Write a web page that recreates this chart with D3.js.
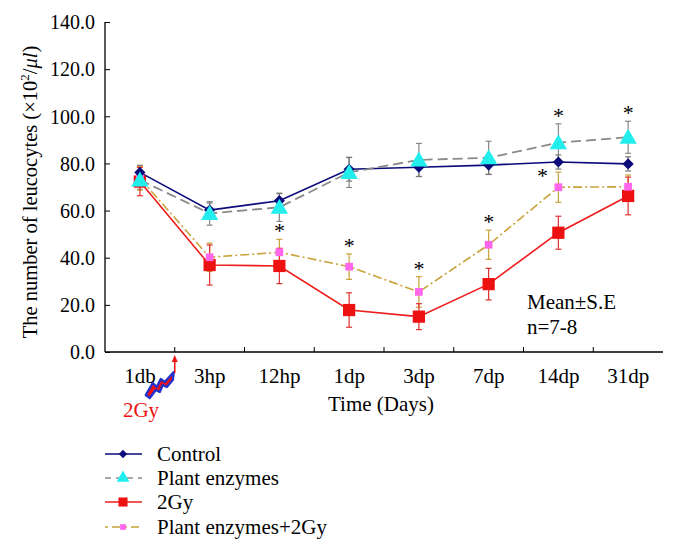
<!DOCTYPE html>
<html><head><meta charset="utf-8">
<script src="https://cdn.jsdelivr.net/npm/d3@7"></script>
<style>body{margin:0;background:#fff}svg{display:block}text{font-family:"Liberation Serif","Times New Roman",serif}</style>
</head><body><svg id="c" width="678" height="549"></svg>
<script>
const categories = ["1db","3hp","12hp","1dp","3dp","7dp","14dp","31dp"];
const yTicks = [0,20,40,60,80,100,120,140];
const controlVals = [76.2,60.2,64.2,77.5,78.4,79.3,80.6,79.8];
const controlErr  = [3,3,3,5,4,4,3,3];
const plantVals   = [73,58.8,61.4,76.2,81.5,82.4,88.8,91.1];
const plantErr    = [4,5,6,6.4,7,7,8,6.8];
const gyVals      = [72.3,36.9,36.5,17.8,15.0,28.8,50.6,66.2];
const gyErr       = [6,8.5,7.5,7.3,5.5,6.7,7,8];
const pgVals      = [73.7,40.2,42.3,36.2,25.5,45.5,69.9,70.1];
const pgErr       = [5,6,5.5,5.4,6.5,6.2,6.4,5];
const seriesNames = ["Control","Plant enzymes","2Gy","Plant enzymes+2Gy"];
// asterisks: [category index, series the star sits above]
const stars = [[2,"pg"],[3,"pg"],[4,"pg"],[5,"pg"],[6,"pgLeft"],[6,"plant"],[7,"plant"]];

const svg = d3.select("#c");
const L=105,R=663,T=22,B=352;
const x = d3.scaleBand().domain(categories).range([L,R]);
const y = d3.scaleLinear().domain([0,140]).range([B,T]);
const cx = c => x(c)+x.bandwidth()/2;

// axes
const ya = svg.append("g").attr("transform",`translate(${L},0)`)
  .call(d3.axisLeft(y).tickValues(yTicks).tickSize(-5).tickPadding(10).tickFormat(d3.format(".1f")));
ya.select(".domain").attr("d",`M0,${T}V${B}`);
const xa = svg.append("g").attr("transform",`translate(0,${B})`)
  .call(d3.axisBottom(x).tickSize(0).tickPadding(0).tickFormat(""));
xa.select(".domain").attr("d",`M${L},0H${R}`);
svg.selectAll(".domain").attr("stroke","#000").attr("stroke-width",1.3);
ya.selectAll(".tick line").attr("stroke","#000");
ya.selectAll("text").attr("font-size",20).attr("fill","#000").attr("font-family","Liberation Serif").attr("dy","0.34em");
// x band boundary ticks (inside)
svg.append("g").selectAll("line").data(categories.slice(1)).join("line")
  .attr("x1",d=>x(d)).attr("x2",d=>x(d)).attr("y1",B).attr("y2",B-5).attr("stroke","#000");
svg.append("g").selectAll("text").data(categories).join("text")
  .attr("x",d=>cx(d)).attr("y",B+31).attr("text-anchor","middle").attr("font-size",21).text(d=>d);

svg.append("text").attr("x",381).attr("y",411).attr("text-anchor","middle").attr("font-size",21).text("Time (Days)");
const yt = svg.append("text").attr("transform",`translate(37,${(T+B)/2+5}) rotate(-90)`).attr("text-anchor","middle").attr("font-size",20.5);
yt.append("tspan").text("The number of leucocytes (×10");
yt.append("tspan").attr("font-size",13).attr("dy",-8).text("2");
yt.append("tspan").attr("dy",8).text("/");
yt.append("tspan").attr("font-style","italic").text("μl");
yt.append("tspan").text(")");

const S = {
  control:{vals:controlVals,err:controlErr,line:"#0a0a7a",dash:null,eb:"#777"},
  plant:{vals:plantVals,err:plantErr,line:"#8a8a8a",dash:"10,5",eb:"#888"},
  gy:{vals:gyVals,err:gyErr,line:"#ee1c1c",dash:null,eb:"#e03030"},
  pg:{vals:pgVals,err:pgErr,line:"#c9a23a",dash:"9,3,2,3",eb:"#c9a23a"}
};
// error bars
["plant","control","pg","gy"].forEach(k=>{
  const s=S[k];
  const g=svg.append("g").attr("stroke",s.eb).attr("stroke-width",1.2);
  categories.forEach((c,i)=>{
    const X=cx(c),y1=y(s.vals[i]+s.err[i]),y2=y(s.vals[i]-s.err[i]);
    g.append("line").attr("x1",X).attr("x2",X).attr("y1",y1).attr("y2",y2);
    g.append("line").attr("x1",X-3).attr("x2",X+3).attr("y1",y1).attr("y2",y1);
    g.append("line").attr("x1",X-3).attr("x2",X+3).attr("y1",y2).attr("y2",y2);
  });
});
const line = vals => d3.line().x((d,i)=>cx(categories[i])).y(d=>y(d))(vals);
["gy","pg","control","plant"].forEach(k=>{
  const s=S[k];
  svg.append("path").attr("d",line(s.vals)).attr("fill","none").attr("stroke",s.line)
    .attr("stroke-width",k==="plant"?1.8:1.6).attr("stroke-dasharray",s.dash);
});
const sym = {
  gy:{t:d3.symbolSquare,size:150,fill:"#ee1111"},
  pg:{t:d3.symbolSquare,size:60,fill:"#ff66ee"},
  control:{t:d3.symbolDiamond2,size:80,fill:"#0a0a7a"},
  plant:{t:d3.symbolTriangle,size:130,fill:"#22eeee"}
};
["gy","pg","control","plant"].forEach(k=>{
  const s=S[k],m=sym[k];
  svg.append("g").selectAll("path").data(s.vals).join("path")
    .attr("transform",(d,i)=>`translate(${cx(categories[i])},${y(d)+(k==="plant"?1.5:0)})`)
    .attr("d",d3.symbol().type(m.t).size(m.size)).attr("fill",m.fill);
});
// stars
stars.forEach(([i,k])=>{
  let X=cx(categories[i]),Y;
  if(k==="pgLeft"){X-=16;Y=y(pgVals[i])-12;}
  else {const s=S[k];Y=y(s.vals[i]+s.err[i])-9;}
  svg.append("text").attr("x",X).attr("y",Y+8).attr("text-anchor","middle").attr("font-size",22).text("*");
});
svg.append("text").attr("x",527).attr("y",309).attr("font-size",21).text("Mean±S.E");
svg.append("text").attr("x",527).attr("y",334).attr("font-size",21).text("n=7-8");

// 2Gy irradiation marker (lightning bolt + arrow)
const bx = x(categories[1]);
svg.append("path").attr("d",
  `M${bx-29},${B+43} L${bx-22},${B+31} L${bx-18},${B+35} L${bx-14},${B+27} L${bx-10},${B+30} L${bx-1},${B+20}
   L${bx-2},${B+28} L${bx-8},${B+35} L${bx-12},${B+33} L${bx-15},${B+40} L${bx-19},${B+38} L${bx-25},${B+46} Z`)
  .attr("fill","#ee1111").attr("stroke","#2233cc").attr("stroke-width",2.4).attr("stroke-linejoin","round");
svg.append("line").attr("x1",bx).attr("x2",bx).attr("y1",B+21).attr("y2",B+8).attr("stroke","#ee1111").attr("stroke-width",1.5);
svg.append("path").attr("d",`M${bx-3},${B+10} L${bx},${B+3} L${bx+3},${B+10} Z`).attr("fill","#ee1111");
svg.append("text").attr("x",141).attr("y",417).attr("text-anchor","middle").attr("font-size",21).attr("fill","#ee1111").text("2Gy");

// legend
const leg = svg.append("g");
[["control",454],["plant",478],["gy",502],["pg",527]].forEach(([k,yy],j)=>{
  const s=S[k],m=sym[k];
  leg.append("line").attr("x1",105).attr("x2",142).attr("y1",yy).attr("y2",yy).attr("stroke",s.line)
    .attr("stroke-width",1.6).attr("stroke-dasharray",k==="plant"?"6,5":(k==="pg"?"3,4,8,4":null));
  leg.append("path").attr("transform",`translate(123,${yy})`).attr("d",d3.symbol().type(m.t).size(m.size*0.55)).attr("fill",m.fill);
  leg.append("text").attr("x",157).attr("y",yy+7).attr("font-size",21).text(seriesNames[j]);
});
</script></body></html>
